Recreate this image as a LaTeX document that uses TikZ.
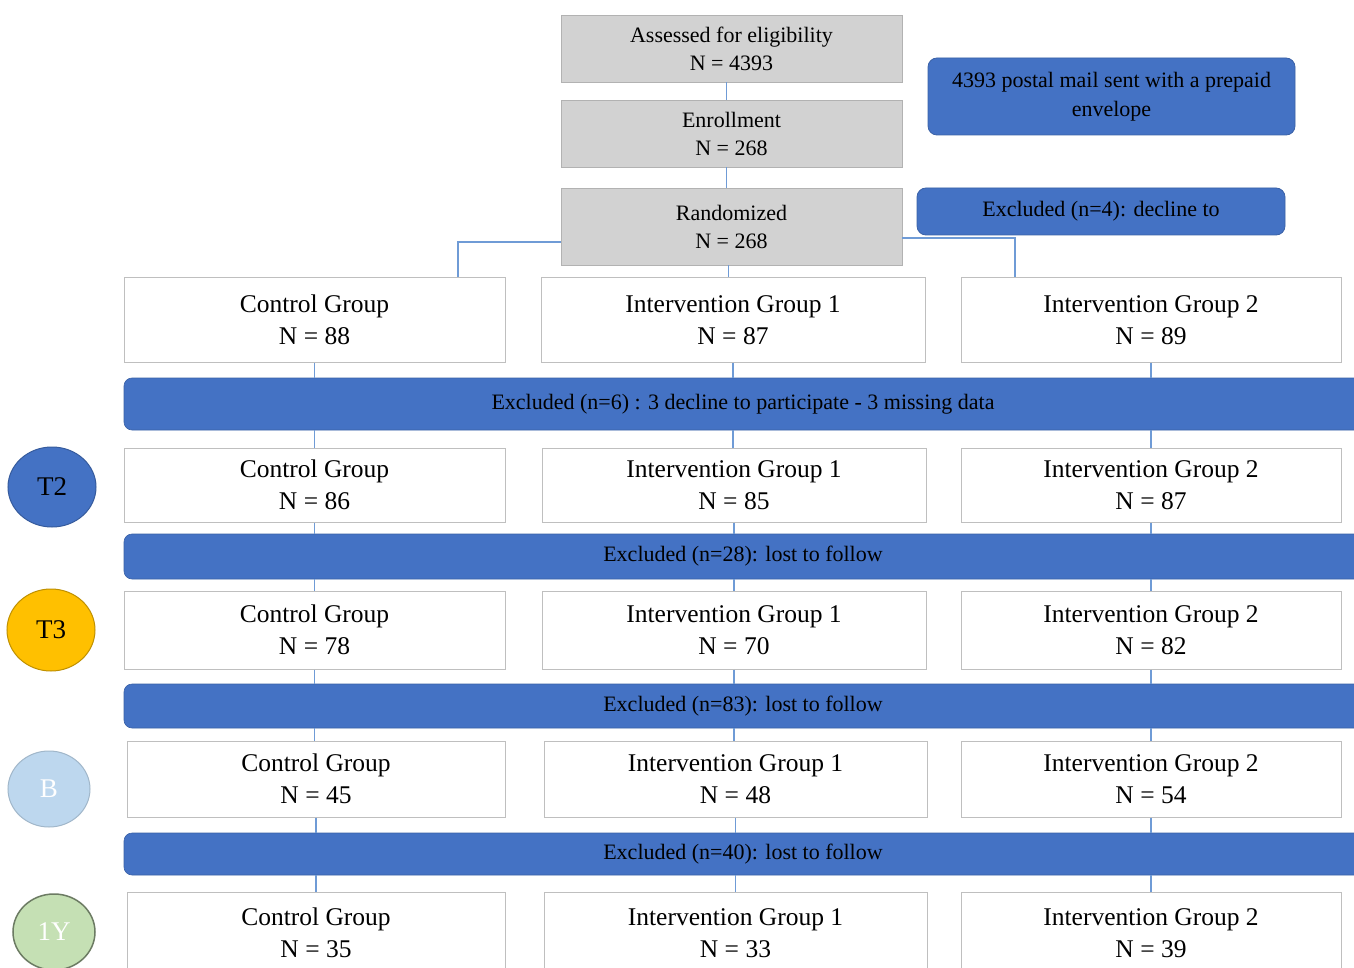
\documentclass[tikz,border=0pt]{standalone}
\usepackage{fontspec}
\setmainfont{Liberation Serif}
\usetikzlibrary{shapes.geometric}
\definecolor{obl}{HTML}{4472C4}
\definecolor{lnk}{HTML}{6F9BD6}
\definecolor{gbox}{HTML}{D2D2D2}
\definecolor{gold}{HTML}{FFC000}
\definecolor{lblue}{HTML}{BDD7EE}
\definecolor{lgreen}{HTML}{C5E0B4}
\tikzset{
  link/.style={draw=lnk, line width=1.3pt},
  graybox/.style={draw=gray!60, fill=gbox, line width=0.8pt, inner sep=0pt, align=center,
    minimum width=341pt, font=\fontsize{22}{28}\selectfont},
  grp/.style={draw=gray!50, fill=white, line width=1pt, inner sep=0pt, align=center,
    font=\fontsize{25.5}{32}\selectfont},
  bluebox/.style={fill=obl, draw=obl!85!black, line width=0.8pt, rounded corners=9pt,
    inner sep=0pt, align=center, font=\fontsize{22}{29}\selectfont},
  bar/.style={fill=obl, draw=obl!85!black, line width=0.6pt, rounded corners=8pt, inner sep=0pt,
    minimum width=1238pt, font=\fontsize{22}{28}\selectfont},
  tp/.style={ellipse, inner sep=0pt, line width=1pt, font=\fontsize{27}{30}\selectfont}
}
\begin{document}
\begin{tikzpicture}[x=1pt,y=-1pt]
\clip (0,0) rectangle (1354,968);
\fill[white] (0,0) rectangle (1354,968);
% top
\node[graybox, minimum height=67pt] (ass) at (731.5,48.5) {Assessed for eligibility\\N = 4393};
\node[graybox, minimum height=67pt] (enr) at (731.5,133.5) {Enrollment\\N = 268};
\node[graybox, minimum height=77pt] (ran) at (731.5,226.5) {Randomized\\N = 268};
\node[bluebox, minimum width=367pt, minimum height=77pt] (mail) at (1111.5,96.5) {4393 postal mail sent with a prepaid\\envelope};
\node[bluebox, minimum width=368pt, minimum height=47pt] (ex4) at (1101,211.5) {Excluded (n=4): decline to};
% row 1
\node[grp, minimum width=381pt, minimum height=84pt] (c1) at (314.5,320) {Control Group\\N = 88};
\node[grp, minimum width=384pt, minimum height=84pt] (i1) at (733,320) {Intervention Group 1\\N = 87};
\node[grp, minimum width=380pt, minimum height=84pt] (j1) at (1151,320) {Intervention Group 2\\N = 89};
\node[bar, minimum height=52pt] (b1) at (743,404) {Excluded (n=6) : 3 decline to participate - 3 missing data};
% row 2
\node[grp, minimum width=381pt, minimum height=74pt] (c2) at (314.5,485) {Control Group\\N = 86};
\node[grp, minimum width=384pt, minimum height=74pt] (i2) at (734,485) {Intervention Group 1\\N = 85};
\node[grp, minimum width=380pt, minimum height=74pt] (j2) at (1151,485) {Intervention Group 2\\N = 87};
\node[bar, minimum height=45pt] (b2) at (743,556.5) {Excluded (n=28): lost to follow};
% row 3
\node[grp, minimum width=381pt, minimum height=78pt] (c3) at (314.5,630) {Control Group\\N = 78};
\node[grp, minimum width=384pt, minimum height=78pt] (i3) at (734,630) {Intervention Group 1\\N = 70};
\node[grp, minimum width=380pt, minimum height=78pt] (j3) at (1151,630) {Intervention Group 2\\N = 82};
\node[bar, minimum height=44pt] (b3) at (743,706) {Excluded (n=83): lost to follow};
% row 4
\node[grp, minimum width=378pt, minimum height=76pt] (c4) at (316,779) {Control Group\\N = 45};
\node[grp, minimum width=383pt, minimum height=76pt] (i4) at (735.5,779) {Intervention Group 1\\N = 48};
\node[grp, minimum width=380pt, minimum height=76pt] (j4) at (1151,779) {Intervention Group 2\\N = 54};
\node[bar, minimum height=42pt] (b4) at (743,854) {Excluded (n=40): lost to follow};
% row 5
\node[grp, minimum width=378pt, minimum height=82pt] (c5) at (316,933) {Control Group\\N = 35};
\node[grp, minimum width=383pt, minimum height=82pt] (i5) at (735.5,933) {Intervention Group 1\\N = 33};
\node[grp, minimum width=380pt, minimum height=82pt] (j5) at (1151,933) {Intervention Group 2\\N = 39};
% time points
\node[tp, fill=obl, draw=obl!80!black, minimum width=88pt, minimum height=80pt] (t2) at (52,487) {T2};
\node[tp, fill=gold, draw=gold!75!black, minimum width=88pt, minimum height=82pt] (t3) at (51,630) {T3};
\node[tp, fill=lblue, draw=lblue!85!black, text=white, minimum width=82pt, minimum height=76pt] (tb) at (49,789) {B};
\node[tp, fill=lgreen, draw=lgreen!55!black, line width=1.5pt, text=white, minimum width=82pt, minimum height=76pt] (ty) at (54,932) {1Y};
% connectors
\draw[link] ([xshift=-5pt]ass.south) -- ([xshift=-5pt]enr.north);
\draw[link] ([xshift=-5pt]enr.south) -- ([xshift=-5pt]ran.north);
\draw[link] ([xshift=-3pt]ran.south) -- ([xshift=-3pt]ran.south |- i1.north);
\draw[link] ([yshift=-15.5pt]ran.west) -| ([xshift=143.5pt]c1.north);
\draw[link] ([yshift=-11.5pt]ran.east) -| ([xshift=-136pt]j1.north);
\foreach \a/\b/\c in {c1/b1/c2, i1/b1/i2, j1/b1/j2, c2/b2/c3, i2/b2/i3, j2/b2/j3, c3/b3/c4, i3/b3/i4, j3/b3/j4, c4/b4/c5, i4/b4/i5, j4/b4/j5}{
  \draw[link] (\a.south) -- (\a.south |- \b.north);
  \draw[link] (\a.south |- \b.south) -- (\a.south |- \c.north);
}
\end{tikzpicture}
\end{document}
